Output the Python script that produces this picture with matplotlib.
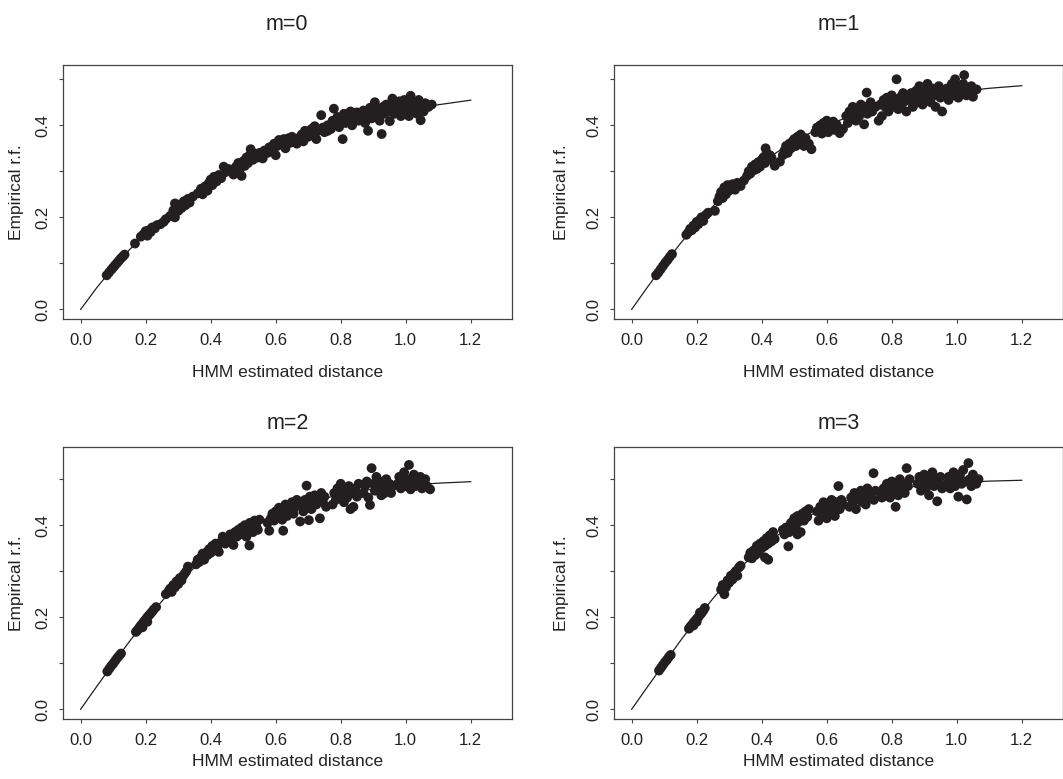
import matplotlib
matplotlib.use('Agg')
import matplotlib.pyplot as plt

plt.rcParams['font.family'] = ['Liberation Sans', 'DejaVu Sans']

# fitted map function at these distances
curve_d = [0.0, 0.05, 0.1, 0.15, 0.2, 0.25, 0.3, 0.35, 0.4, 0.45, 0.5, 0.55, 0.6,
           0.7, 0.8, 0.9, 1.0, 1.1, 1.2]
curve_m0 = [0.0, 0.0476, 0.0906, 0.1296, 0.1648, 0.1967, 0.2256, 0.2517, 0.2753, 0.2967,
            0.3161, 0.3336, 0.3494, 0.3767, 0.3991, 0.4174, 0.4323, 0.4446, 0.4546]
curve_m1 = [0.0, 0.0497, 0.0978, 0.1433, 0.1855, 0.2241, 0.2590, 0.2904, 0.3183, 0.3430,
            0.3647, 0.3837, 0.4002, 0.4270, 0.4470, 0.4617, 0.4725, 0.4804, 0.4860]
curve_m2 = [0.0, 0.0500, 0.0994, 0.1473, 0.1928, 0.2350, 0.2735, 0.3080, 0.3385, 0.3651,
            0.3880, 0.4075, 0.4240, 0.4495, 0.4669, 0.4786, 0.4864, 0.4914, 0.4946]
curve_m3 = [0.0, 0.0500, 0.0998, 0.1488, 0.1961, 0.2406, 0.2816, 0.3183, 0.3507, 0.3786,
            0.4023, 0.4221, 0.4384, 0.4624, 0.4776, 0.4870, 0.4926, 0.4958, 0.4977]

# scatter points (HMM distance, empirical r.f.)
m0_x = [0.080, 0.087, 0.094, 0.100, 0.106, 0.112, 0.118, 0.124, 0.130, 0.135, 0.167,
        0.185, 0.193, 0.200, 0.205, 0.210, 0.215, 0.220, 0.228, 0.235, 0.245, 0.255, 0.262,
        0.275, 0.285, 0.290, 0.295, 0.300, 0.305, 0.310, 0.318, 0.322, 0.330, 0.335, 0.345,
        0.360, 0.370, 0.375, 0.385, 0.390, 0.395, 0.400, 0.405, 0.410, 0.418, 0.425, 0.432, 0.440, 0.445,
        0.465, 0.470, 0.478, 0.485, 0.490, 0.495, 0.500, 0.505, 0.510, 0.515, 0.520, 0.523, 0.530, 0.538, 0.545, 0.550,
        0.560, 0.565, 0.575, 0.580, 0.590, 0.595, 0.600, 0.605, 0.610, 0.620, 0.625, 0.630, 0.640, 0.645, 0.650,
        0.665, 0.670, 0.680, 0.685, 0.690, 0.700, 0.710, 0.715, 0.720, 0.725, 0.730, 0.740, 0.745, 0.750,
        0.760, 0.770, 0.775, 0.779, 0.785, 0.790, 0.795, 0.800, 0.806, 0.810, 0.815, 0.820, 0.830, 0.835, 0.840, 0.850, 0.855,
        0.865, 0.870, 0.875, 0.880, 0.884, 0.890, 0.895, 0.900, 0.905, 0.910, 0.915, 0.920, 0.926, 0.930, 0.935, 0.940, 0.945, 0.951, 0.955, 0.959,
        0.965, 0.970, 0.975, 0.980, 0.985, 0.990, 0.995, 1.000, 1.005, 1.010, 1.015, 1.020, 1.025, 1.030, 1.035, 1.040, 1.046, 1.050, 1.055, 1.060, 1.070, 1.080,
        0.290, 0.380, 0.455, 0.560, 0.660, 0.760]
m0_y = [0.074, 0.080, 0.086, 0.091, 0.096, 0.101, 0.106, 0.111, 0.115, 0.119, 0.143,
        0.158, 0.163, 0.170, 0.160, 0.172, 0.168, 0.178, 0.176, 0.183, 0.185, 0.190, 0.196,
        0.203, 0.215, 0.200, 0.222, 0.214, 0.228, 0.220, 0.235, 0.226, 0.240, 0.232, 0.245,
        0.252, 0.262, 0.250, 0.268, 0.258, 0.275, 0.282, 0.270, 0.288, 0.278, 0.292, 0.285, 0.310, 0.298,
        0.300, 0.293, 0.310, 0.318, 0.305, 0.290, 0.322, 0.312, 0.330, 0.318, 0.335, 0.348, 0.325, 0.338, 0.330, 0.340,
        0.328, 0.345, 0.340, 0.352, 0.345, 0.360, 0.335, 0.355, 0.368, 0.358, 0.370, 0.350, 0.372, 0.362, 0.375,
        0.360, 0.372, 0.380, 0.365, 0.388, 0.375, 0.392, 0.380, 0.398, 0.370, 0.388, 0.422, 0.395, 0.385,
        0.400, 0.392, 0.410, 0.436, 0.402, 0.418, 0.396, 0.410, 0.370, 0.425, 0.405, 0.415, 0.430, 0.400, 0.418, 0.428, 0.410,
        0.420, 0.432, 0.405, 0.425, 0.388, 0.438, 0.415, 0.430, 0.450, 0.420, 0.435, 0.410, 0.381, 0.440, 0.425, 0.445, 0.430, 0.409, 0.440, 0.458,
        0.425, 0.445, 0.435, 0.452, 0.420, 0.440, 0.455, 0.430, 0.445, 0.420, 0.464, 0.435, 0.450, 0.440, 0.425, 0.455, 0.411, 0.442, 0.430, 0.448, 0.440, 0.445,
        0.230, 0.265, 0.305, 0.338, 0.368, 0.388]

m1_x = [0.075, 0.082, 0.089, 0.096, 0.103, 0.110, 0.117, 0.124,
        0.168, 0.175, 0.180, 0.185, 0.190, 0.195, 0.200, 0.205, 0.210, 0.215, 0.220, 0.228, 0.235, 0.256,
        0.265, 0.270, 0.275, 0.280, 0.285, 0.290, 0.295, 0.300, 0.305, 0.310, 0.318, 0.325, 0.335, 0.345,
        0.355, 0.360, 0.365, 0.370, 0.375, 0.380, 0.385, 0.390, 0.395, 0.400, 0.405, 0.410, 0.412, 0.415, 0.420, 0.425, 0.430, 0.440, 0.456,
        0.465, 0.470, 0.475, 0.480, 0.485, 0.490, 0.495, 0.500, 0.505, 0.510, 0.515, 0.520, 0.525, 0.530, 0.535, 0.545, 0.553,
        0.565, 0.570, 0.575, 0.580, 0.585, 0.590, 0.595, 0.600, 0.605, 0.610, 0.615, 0.620, 0.625, 0.630, 0.640, 0.650,
        0.660, 0.665, 0.670, 0.675, 0.680, 0.685, 0.690, 0.695, 0.700, 0.705, 0.710, 0.715, 0.720, 0.723, 0.725, 0.730, 0.735, 0.740, 0.750,
        0.760, 0.765, 0.770, 0.775, 0.780, 0.785, 0.790, 0.795, 0.800, 0.805, 0.810, 0.815, 0.820, 0.825, 0.830, 0.835, 0.840, 0.845,
        0.855, 0.860, 0.865, 0.870, 0.875, 0.880, 0.885, 0.890, 0.895, 0.900, 0.905, 0.910, 0.915, 0.920, 0.925, 0.930, 0.935, 0.940, 0.945, 0.950, 0.955,
        0.965, 0.970, 0.975, 0.980, 0.985, 0.990, 0.995, 1.000, 1.005, 1.010, 1.015, 1.020, 1.023, 1.030, 1.035, 1.040, 1.045, 1.050, 1.061]
m1_y = [0.074, 0.080, 0.087, 0.094, 0.101, 0.107, 0.114, 0.120,
        0.162, 0.168, 0.175, 0.172, 0.182, 0.178, 0.190, 0.185, 0.195, 0.200, 0.192, 0.205, 0.210, 0.214,
        0.235, 0.245, 0.255, 0.242, 0.265, 0.250, 0.270, 0.258, 0.262, 0.272, 0.260, 0.275, 0.268, 0.280,
        0.290, 0.300, 0.295, 0.310, 0.302, 0.315, 0.305, 0.320, 0.310, 0.325, 0.330, 0.318, 0.350, 0.340, 0.325, 0.335, 0.330, 0.312, 0.321,
        0.335, 0.345, 0.355, 0.340, 0.360, 0.350, 0.365, 0.370, 0.355, 0.375, 0.362, 0.380, 0.368, 0.355, 0.372, 0.360, 0.348,
        0.385, 0.395, 0.388, 0.400, 0.382, 0.405, 0.392, 0.410, 0.385, 0.400, 0.395, 0.408, 0.390, 0.402, 0.383, 0.392,
        0.420, 0.405, 0.430, 0.415, 0.440, 0.425, 0.410, 0.435, 0.420, 0.445, 0.430, 0.402, 0.440, 0.471, 0.425, 0.435, 0.450, 0.430, 0.440,
        0.410, 0.445, 0.420, 0.455, 0.440, 0.460, 0.430, 0.450, 0.465, 0.440, 0.455, 0.500, 0.435, 0.460, 0.445, 0.470, 0.452, 0.430,
        0.455, 0.470, 0.440, 0.460, 0.475, 0.450, 0.485, 0.465, 0.445, 0.478, 0.460, 0.490, 0.470, 0.450, 0.480, 0.465, 0.440, 0.475, 0.485, 0.460, 0.430,
        0.470, 0.480, 0.455, 0.475, 0.490, 0.465, 0.500, 0.478, 0.460, 0.485, 0.470, 0.490, 0.509, 0.465, 0.480, 0.470, 0.485, 0.462, 0.478]

m2_x = [0.082, 0.088, 0.094, 0.100, 0.106, 0.112, 0.118, 0.124,
        0.170, 0.175, 0.180, 0.185, 0.190, 0.195, 0.200, 0.205, 0.210, 0.215, 0.220, 0.225, 0.232, 0.190, 0.205,
        0.262, 0.270, 0.275, 0.280, 0.285, 0.290, 0.295, 0.300, 0.305, 0.310, 0.315, 0.320, 0.325, 0.330,
        0.355, 0.360, 0.365, 0.370, 0.375, 0.380, 0.385, 0.390, 0.395, 0.400, 0.405, 0.410, 0.415, 0.420, 0.425, 0.430, 0.437, 0.445,
        0.460, 0.465, 0.470, 0.475, 0.480, 0.485, 0.490, 0.495, 0.500, 0.505, 0.510, 0.515, 0.519, 0.520, 0.525, 0.530, 0.535, 0.540, 0.545, 0.550,
        0.575, 0.580, 0.585, 0.590, 0.595, 0.600, 0.605, 0.610, 0.615, 0.620, 0.623, 0.625, 0.630, 0.635, 0.640, 0.645, 0.650, 0.655, 0.660, 0.665,
        0.675, 0.680, 0.685, 0.690, 0.695, 0.700, 0.702, 0.705, 0.710, 0.715, 0.720, 0.725, 0.730, 0.736, 0.740, 0.745, 0.750, 0.755,
        0.775, 0.780, 0.785, 0.790, 0.795, 0.800, 0.805, 0.810, 0.815, 0.820, 0.825, 0.830, 0.835, 0.839, 0.845, 0.850, 0.855,
        0.870, 0.875, 0.880, 0.885, 0.890, 0.895, 0.900, 0.905, 0.910, 0.915, 0.920, 0.925, 0.930, 0.935, 0.940, 0.945, 0.950, 0.955, 0.960,
        0.975, 0.980, 0.985, 0.990, 0.995, 1.000, 1.005, 1.010, 1.015, 1.020, 1.025, 1.030, 1.035, 1.040, 1.045, 1.050, 1.055, 1.060, 1.065, 1.075]
m2_y = [0.082, 0.088, 0.094, 0.099, 0.105, 0.111, 0.116, 0.121,
        0.168, 0.172, 0.177, 0.182, 0.186, 0.191, 0.195, 0.200, 0.204, 0.208, 0.212, 0.217, 0.222, 0.178, 0.190,
        0.250, 0.256, 0.262, 0.255, 0.270, 0.265, 0.278, 0.272, 0.285, 0.280, 0.290, 0.295, 0.300, 0.310,
        0.315, 0.325, 0.320, 0.330, 0.338, 0.325, 0.340, 0.335, 0.348, 0.340, 0.355, 0.345, 0.360, 0.350, 0.342, 0.362, 0.375, 0.360,
        0.380, 0.370, 0.357, 0.385, 0.375, 0.390, 0.380, 0.395, 0.385, 0.400, 0.375, 0.392, 0.356, 0.405, 0.395, 0.385, 0.410, 0.400, 0.390, 0.412,
        0.405, 0.388, 0.415, 0.425, 0.410, 0.430, 0.418, 0.438, 0.425, 0.412, 0.388, 0.435, 0.445, 0.420, 0.440, 0.430, 0.450, 0.425, 0.440, 0.455,
        0.408, 0.445, 0.430, 0.455, 0.486, 0.440, 0.411, 0.462, 0.435, 0.450, 0.465, 0.445, 0.458, 0.415, 0.470, 0.450, 0.462, 0.440,
        0.445, 0.470, 0.455, 0.480, 0.462, 0.490, 0.470, 0.450, 0.475, 0.460, 0.485, 0.435, 0.470, 0.440, 0.480, 0.462, 0.490,
        0.470, 0.485, 0.495, 0.460, 0.444, 0.524, 0.490, 0.475, 0.505, 0.480, 0.495, 0.465, 0.485, 0.470, 0.500, 0.480, 0.490, 0.470, 0.485,
        0.490, 0.505, 0.480, 0.495, 0.515, 0.485, 0.500, 0.531, 0.478, 0.495, 0.510, 0.485, 0.500, 0.490, 0.505, 0.480, 0.495, 0.500, 0.485, 0.478]

m3_x = [0.084, 0.090, 0.096, 0.102, 0.108, 0.114, 0.120,
        0.176, 0.180, 0.185, 0.190, 0.195, 0.200, 0.205, 0.210, 0.215, 0.220, 0.225, 0.190, 0.200, 0.210,
        0.275, 0.280, 0.285, 0.290, 0.295, 0.300, 0.305, 0.310, 0.315, 0.320, 0.325, 0.330, 0.335,
        0.360, 0.365, 0.370, 0.375, 0.380, 0.385, 0.390, 0.395, 0.400, 0.405, 0.410, 0.415, 0.420, 0.425, 0.430, 0.435, 0.440, 0.420, 0.410,
        0.465, 0.470, 0.475, 0.482, 0.485, 0.490, 0.495, 0.500, 0.505, 0.510, 0.515, 0.520, 0.525, 0.530, 0.535, 0.540, 0.545, 0.510,
        0.570, 0.575, 0.580, 0.585, 0.590, 0.595, 0.600, 0.605, 0.610, 0.615, 0.620, 0.625, 0.630, 0.636, 0.640, 0.645, 0.650,
        0.670, 0.675, 0.680, 0.685, 0.690, 0.695, 0.700, 0.705, 0.710, 0.715, 0.720, 0.725, 0.730, 0.735, 0.744, 0.745, 0.750,
        0.765, 0.770, 0.775, 0.780, 0.785, 0.790, 0.795, 0.800, 0.805, 0.810, 0.812, 0.815, 0.820, 0.825, 0.830, 0.835, 0.840, 0.846, 0.850, 0.855,
        0.880, 0.885, 0.890, 0.895, 0.900, 0.905, 0.910, 0.915, 0.920, 0.925, 0.930, 0.935, 0.940, 0.945, 0.950, 0.955,
        0.970, 0.975, 0.980, 0.985, 0.990, 0.995, 1.000, 1.005, 1.010, 1.015, 1.020, 1.025, 1.031, 1.036, 1.040, 1.045, 1.050, 1.055, 1.060, 1.067]
m3_y = [0.084, 0.090, 0.096, 0.102, 0.107, 0.113, 0.118,
        0.175, 0.179, 0.183, 0.188, 0.192, 0.196, 0.200, 0.205, 0.209, 0.214, 0.220, 0.182, 0.190, 0.210,
        0.260, 0.270, 0.250, 0.265, 0.280, 0.275, 0.290, 0.282, 0.295, 0.300, 0.290, 0.308, 0.312,
        0.330, 0.340, 0.328, 0.345, 0.335, 0.355, 0.340, 0.360, 0.350, 0.365, 0.355, 0.372, 0.360, 0.378, 0.365, 0.385, 0.370, 0.325, 0.330,
        0.390, 0.380, 0.395, 0.354, 0.385, 0.405, 0.390, 0.415, 0.400, 0.420, 0.408, 0.385, 0.425, 0.410, 0.430, 0.418, 0.435, 0.380,
        0.430, 0.410, 0.440, 0.425, 0.450, 0.435, 0.415, 0.445, 0.430, 0.455, 0.440, 0.420, 0.450, 0.485, 0.435, 0.455, 0.445,
        0.440, 0.460, 0.450, 0.470, 0.435, 0.465, 0.455, 0.475, 0.450, 0.468, 0.445, 0.480, 0.460, 0.470, 0.513, 0.455, 0.475,
        0.470, 0.460, 0.480, 0.465, 0.490, 0.475, 0.460, 0.495, 0.480, 0.470, 0.440, 0.490, 0.465, 0.500, 0.475, 0.490, 0.470, 0.524, 0.485, 0.500,
        0.490, 0.505, 0.475, 0.495, 0.510, 0.480, 0.500, 0.465, 0.490, 0.515, 0.485, 0.500, 0.452, 0.490, 0.505, 0.480,
        0.490, 0.505, 0.480, 0.500, 0.515, 0.485, 0.500, 0.462, 0.510, 0.490, 0.520, 0.495, 0.456, 0.535, 0.500, 0.485, 0.510, 0.495, 0.490, 0.500]

titles = ['m=0', 'm=1', 'm=2', 'm=3']
xticks = [0.0, 0.2, 0.4, 0.6, 0.8, 1.0, 1.2]
yticks = [0.0, 0.1, 0.2, 0.3, 0.4, 0.5]
ytick_labels = ['0.0', '', '0.2', '', '0.4', '']

W, H = 1063.0, 779.0
ink = '#231f20'

fig = plt.figure(figsize=(W / 100, H / 100), dpi=100)

# panel boxes in pixels: left, top, width, height
boxes = [(62.5, 65, 449.5, 254), (613.5, 65, 449.5, 254),
         (62.5, 447, 449.5, 272.3), (613.5, 447, 449.5, 272.3)]
ylims = [(-0.021, 0.531), (-0.021, 0.531), (-0.022, 0.570), (-0.022, 0.570)]
xs = [m0_x, m1_x, m2_x, m3_x]
ys = [m0_y, m1_y, m2_y, m3_y]
curves = [curve_m0, curve_m1, curve_m2, curve_m3]
title_pads = [25, 25, 13, 13]
xlabel_pads = [12, 12, 4.5, 4.5]
ylabel_pads = [8, 12, 8, 12]

for i in range(4):
    l, t, w, h = boxes[i]
    ax = fig.add_axes([l / W, 1 - (t + h) / H, w / W, h / H])
    ax.scatter(xs[i], ys[i], s=50, color=ink, edgecolors='none', zorder=2)
    ax.plot(curve_d, curves[i], color=ink, lw=0.9, zorder=3)
    ax.set_xlim(-0.056, 1.327)
    ax.set_ylim(*ylims[i])
    ax.set_xticks(xticks)
    ax.set_xticklabels(['{0:.1f}'.format(v) for v in xticks])
    ax.set_yticks(yticks)
    ax.set_yticklabels(ytick_labels, rotation=90, va='center')
    ax.tick_params(direction='out', length=3, width=0.8, colors='#444',
                   labelcolor='#222', labelsize=12)
    ax.tick_params(axis='x', pad=7)
    ax.tick_params(axis='y', pad=6)
    for sp in ax.spines.values():
        sp.set_color('#444')
        sp.set_linewidth(0.9)
    ax.set_title(titles[i], fontsize=15.5, color='#222', pad=title_pads[i])
    ax.set_xlabel('HMM estimated distance', fontsize=12.5, color='#222', labelpad=xlabel_pads[i])
    ax.set_ylabel('Empirical r.f.', fontsize=12.5, color='#222', labelpad=ylabel_pads[i])

fig.savefig('out.png', dpi=100)
